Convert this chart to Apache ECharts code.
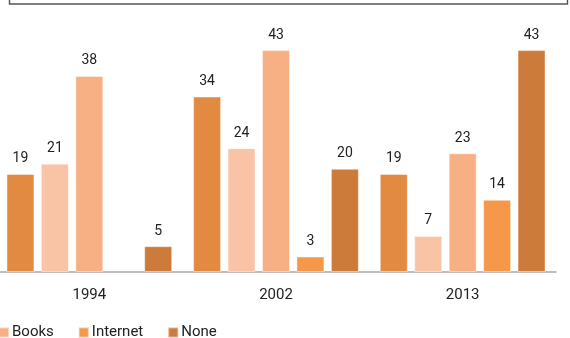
<!DOCTYPE html>
<html>
<head>
<meta charset="utf-8">
<style>
  html, body { margin: 0; padding: 0; background: #fff; }
  #chart { width: 570px; height: 338px; }
</style>
<script src="https://cdn.jsdelivr.net/npm/echarts@6/dist/echarts.min.js"></script>
</head>
<body>
<div id="chart"></div>
<script>
// Survey years on the category axis
const years = ['1994', '2002', '2013'];

// Share (%) per source, one array per series
const seriesNames = ['Family', 'Friends', 'Books', 'Internet', 'None'];
const family   = [19, 34, 19];
const friends  = [21, 24, 7];
const books    = [38, 43, 23];
const internet = [null, 3, 14];
const none     = [5, 20, 43];

const legendItems = ['Books', 'Internet', 'None'];
const palette = ['#E38A42', '#F9C3A6', '#F7AF84', '#F5984A', '#CC7B3A'];

const values = [family, friends, books, internet, none];

const chart = echarts.init(document.getElementById('chart'), null, { renderer: 'canvas' });

chart.setOption({
  animation: false,
  color: palette,
  textStyle: { fontFamily: 'Roboto, sans-serif' },
  graphic: [{
    type: 'rect',
    shape: { x: 9.5, y: -40, width: 558, height: 44 },
    style: { fill: 'none', stroke: '#555', lineWidth: 1.4 },
    silent: true
  }],
  legend: {
    data: legendItems,
    left: -7,
    top: 320,
    icon: 'rect',
    itemWidth: 10,
    itemHeight: 10,
    itemGap: 24,
    textStyle: { fontSize: 15, color: '#222', fontFamily: 'Roboto, sans-serif', padding: [0, 0, 0, -2] }
  },
  grid: {
    left: -4,
    right: 14,
    top: 14,
    bottom: 66,
    outerBoundsMode: 'none',
    containLabel: false
  },
  xAxis: {
    type: 'category',
    data: years,
    axisLine: { lineStyle: { color: '#a6a6a6', width: 1.5 } },
    axisTick: { show: false },
    axisLabel: { fontSize: 15, color: '#222', margin: 16, fontFamily: 'Roboto, sans-serif' }
  },
  yAxis: {
    type: 'value',
    min: 0,
    max: 50,
    show: false,
    splitLine: { show: false }
  },
  series: seriesNames.map((name, i) => ({
    name: name,
    type: 'bar',
    data: values[i],
    barWidth: 28,
    barGap: '23%',
    itemStyle: { borderColor: 'rgba(255,255,255,0.45)', borderWidth: 1 },
    label: {
      show: true,
      position: 'top',
      distance: 8,
      fontSize: 14,
      color: '#222',
      fontFamily: 'Roboto, sans-serif'
    }
  }))
});
</script>
</body>
</html>
